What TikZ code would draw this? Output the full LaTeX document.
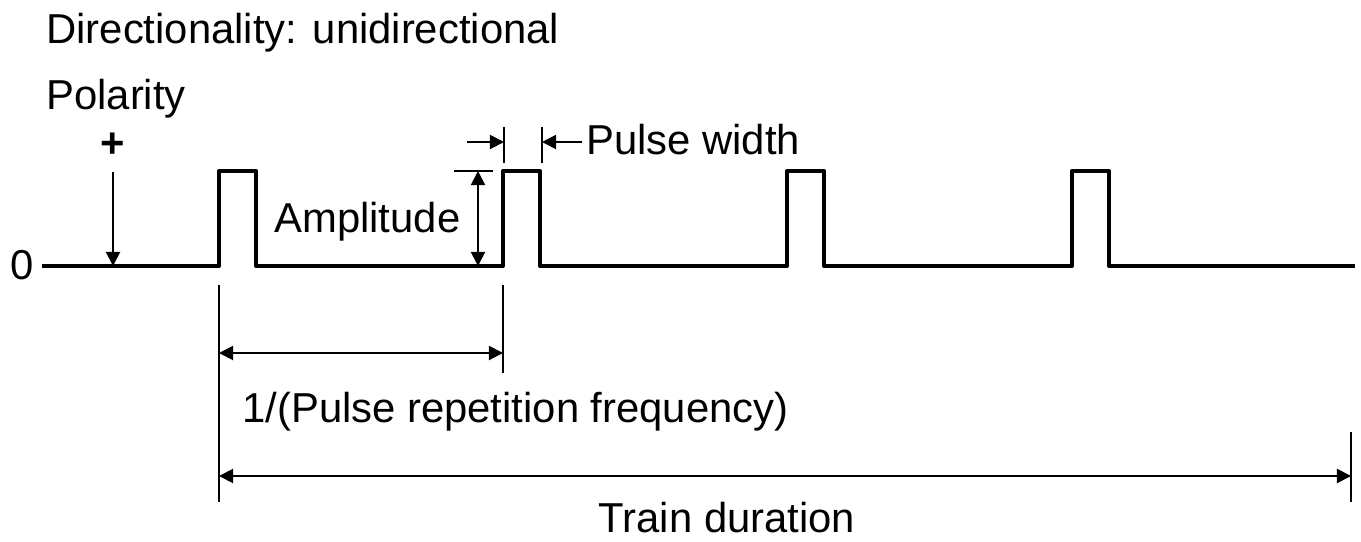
\documentclass[tikz,border=0pt]{standalone}
\usepackage{fontspec}
\setmainfont{Liberation Sans}
\usetikzlibrary{arrows.meta}

\tikzset{
  signal/.style={line width=2.3pt, line join=round},
  extline/.style={line width=0.8pt},
  dimarrow/.style={line width=1.1pt, -{Triangle[length=8pt,width=8pt]}},
  twoway/.style={line width=1.1pt, {Triangle[length=8pt,width=8pt]}-{Triangle[length=8pt,width=8pt]}},
  lbl/.style={inner sep=0pt, font=\fontsize{23.8}{28}\selectfont}
}

\begin{document}
\begin{tikzpicture}[x=0.02cm, y=-0.02cm]
    \useasboundingbox (0,0) rectangle (1361,541);

    % labels
    \node[lbl, anchor=base west] (direction) at (46,43) {Directionality: unidirectional};
    \node[lbl, anchor=base west] (polarity) at (46,109) {Polarity};
    \node[lbl] (plus) at (113,145) {\textbf{+}};
    \node[lbl] (zero) at (22,265) {0};
    \node[lbl, anchor=base west] (amplitude) at (274,232) {Amplitude};
    \node[lbl, anchor=base west] (pwidth) at (586,154) {Pulse width};
    \node[lbl, anchor=base west] (prf) at (242,422) {1/(Pulse repetition frequency)};
    \node[lbl, anchor=base] (train) at (727,532) {Train duration};

    % pulse train
    \draw[signal] (42,266) -- (219,266) -- (219,171) -- (256,171) -- (256,266)
        -- (503,266) -- (503,171) -- (540,171) -- (540,266)
        -- (787,266) -- (787,171) -- (824,171) -- (824,266)
        -- (1072,266) -- (1072,171) -- (1109,171) -- (1109,266) -- (1355,266);

    % polarity
    \coordinate (polTop) at (113,172);
    \coordinate (polBot) at (113,266);
    \draw[dimarrow] (polTop) -- (polBot);

    % amplitude
    \coordinate (ampTickL) at (454,171);
    \coordinate (ampTickR) at (493,171);
    \coordinate (ampTop) at (478,171);
    \coordinate (ampBot) at (478,266);
    \draw[extline] (ampTickL) -- (ampTickR);
    \draw[twoway] (ampTop) -- (ampBot);

    % pulse width
    \coordinate (pwTickLa) at (504,127);
    \coordinate (pwTickLb) at (504,163);
    \coordinate (pwTickRa) at (542,127);
    \coordinate (pwTickRb) at (542,163);
    \coordinate (pwInL) at (467,142);
    \coordinate (pwL) at (504,142);
    \coordinate (pwInR) at (582,142);
    \coordinate (pwR) at (542,142);
    \draw[extline] (pwTickLa) -- (pwTickLb);
    \draw[extline] (pwTickRa) -- (pwTickRb);
    \draw[dimarrow] (pwInL) -- (pwL);
    \draw[dimarrow] (pwInR) -- (pwR);

    % 1/PRF and train duration
    \coordinate (extA1) at (219,285);
    \coordinate (extA2) at (219,502);
    \coordinate (extB1) at (503,285);
    \coordinate (extB2) at (503,373);
    \coordinate (extC1) at (1351,432);
    \coordinate (extC2) at (1351,502);
    \draw[extline] (extA1) -- (extA2);
    \draw[extline] (extB1) -- (extB2);
    \draw[extline] (extC1) -- (extC2);
    \coordinate (prfL) at (219,353);
    \coordinate (prfR) at (503,353);
    \coordinate (trainL) at (219,476);
    \coordinate (trainR) at (1351,476);
    \draw[twoway] (prfL) -- (prfR);
    \draw[twoway] (trainL) -- (trainR);
\end{tikzpicture}
\end{document}
